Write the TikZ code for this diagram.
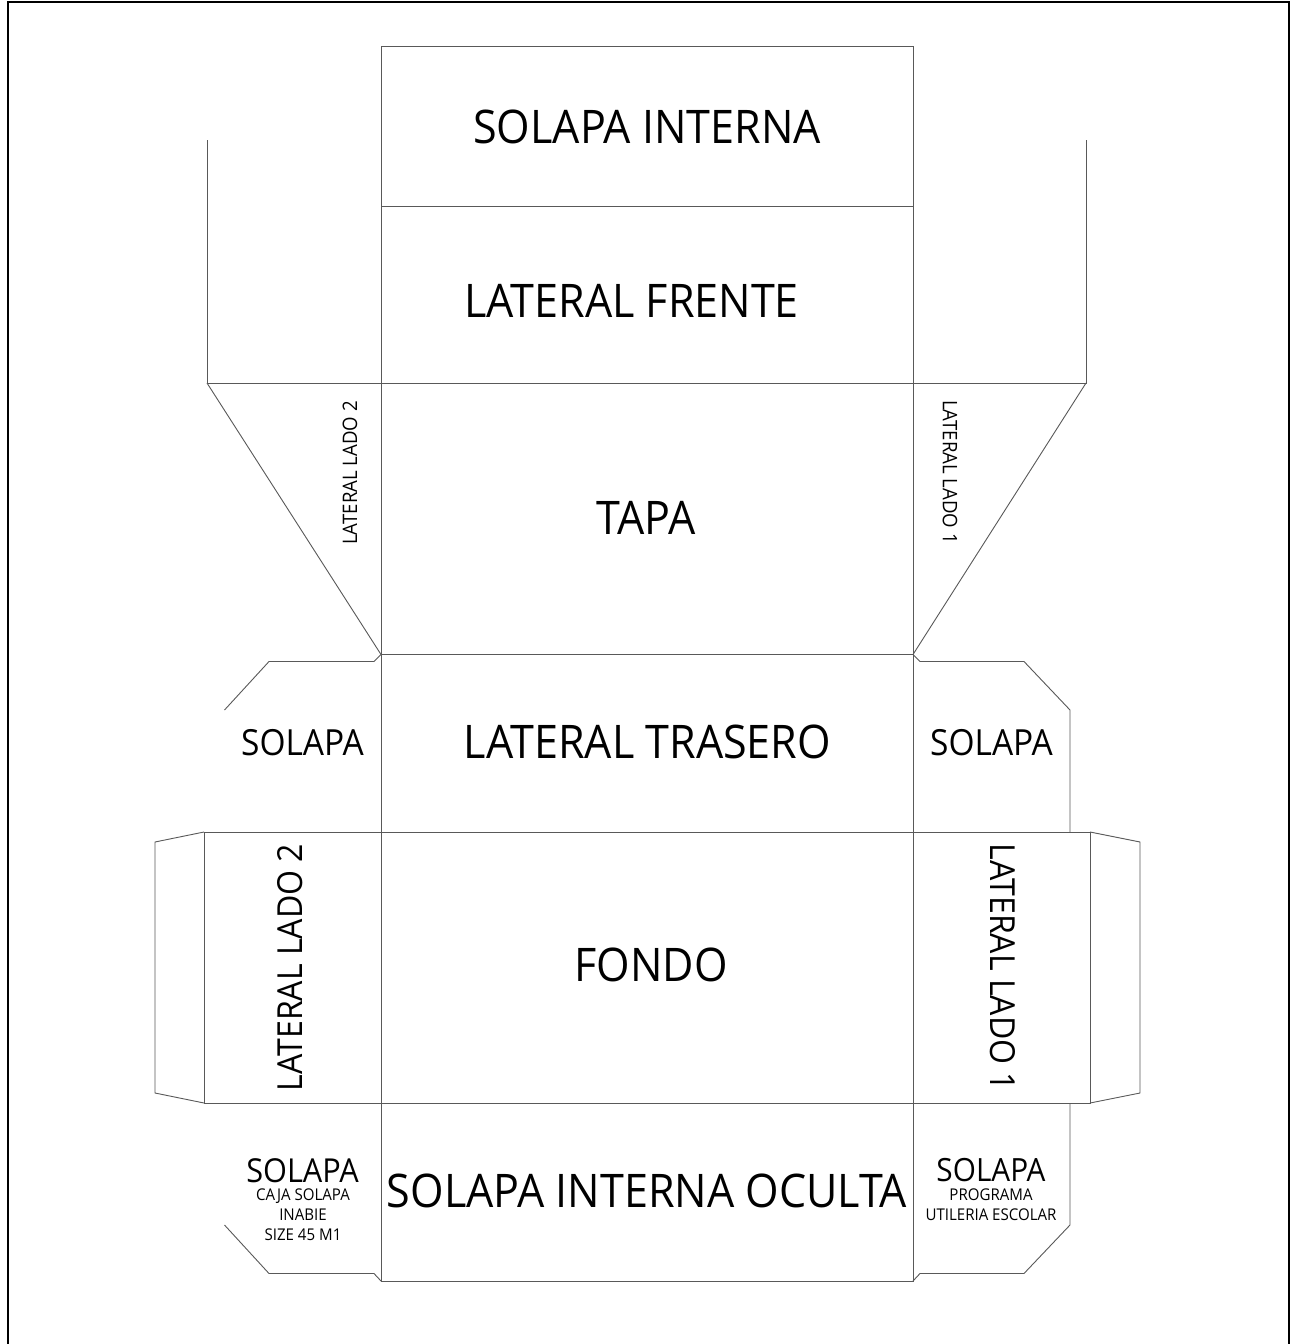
\documentclass[tikz,border=0pt]{standalone}
\usepackage{fontspec}
\setmainfont[FakeStretch=0.93]{Open Sans}
\definecolor{cutline}{gray}{0.35}
\tikzset{
  cut/.style={draw=cutline,line width=0.9pt,line join=miter},
  lab/.style={inner sep=0pt,text=black,align=center},
  big/.style={lab,font=\fontsize{46.3}{46.3}\selectfont},
  sol/.style={lab,font=\fontsize{36}{36}\selectfont},
  solb/.style={lab,font=\fontsize{33}{33}\selectfont},
  solc/.style={lab,font=\fontsize{32}{32}\selectfont},
  tiny/.style={lab,font=\fontsize{16.2}{20}\selectfont},
  sidebig/.style={lab,font=\fontsize{34.5}{34.5}\selectfont},
  sidesm/.style={lab,font=\fontsize{20}{20}\selectfont}
}
\begin{document}
\begin{tikzpicture}[x=1pt,y=-1pt]
\useasboundingbox (0,0) rectangle (1293,1344);
\fill[white] (0,0) rectangle (1293,1344);
\draw[black,line width=2pt] (8,1344) -- (8,2) -- (1289,2) -- (1289,1344);
% central panels
\draw[cut] (381,46) rectangle (913,1281);
\draw[cut] (381,206) -- (913,206);
\draw[cut] (381,383) -- (913,383);
\draw[cut] (381,654.5) -- (913,654.5);
\draw[cut] (381,832) -- (913,832);
\draw[cut] (381,1103) -- (913,1103);
% top flaps
\draw[cut] (207,140) -- (207,383) -- (381,383);
\draw[cut] (207,383) -- (381,654.5);
\draw[cut] (1086,140) -- (1086,383) -- (913,383);
\draw[cut] (1086,383) -- (913,654.5);
% solapas
\draw[cut] (224.5,710) -- (269,661.5) -- (374,661.5) -- (381,654.5);
\draw[cut] (913,654.5) -- (920,661.5) -- (1024,661.5) -- (1070,710) -- (1070,832);
\draw[cut] (224.5,1225) -- (269,1273.5) -- (374,1273.5) -- (381,1281);
\draw[cut] (1070,1103) -- (1070,1225) -- (1024,1273.5) -- (920,1273.5) -- (913,1281);
% side panels
\draw[cut] (381,832) -- (204,832) -- (204,1103) -- (381,1103);
\draw[cut] (204,832) -- (155,842) -- (155,1093) -- (204,1103);
\draw[cut] (913,832) -- (1090,832) -- (1090,1103) -- (913,1103);
\draw[cut] (1090,832) -- (1140,842) -- (1140,1093) -- (1090,1103);
% labels
\node[big] (si) at (647,127) {SOLAPA INTERNA};
\node[big] (lf) at (631.5,301) {LATERAL FRENTE};
\node[big] (tp) at (646,518) {TAPA};
\node[big] (lt) at (647.5,742) {LATERAL TRASERO};
\node[big] (fo) at (651,965) {FONDO};
\node[big] (so) at (647,1191) {SOLAPA INTERNA OCULTA};
\node[sol] (sl) at (302.5,743) {SOLAPA};
\node[sol] (sr) at (991.5,743) {SOLAPA};
\node[sidebig,rotate=90] (l2b) at (290.5,967.5) {LATERAL LADO 2};
\node[sidebig,rotate=-90] (l1b) at (1002.5,967.5) {LATERAL LADO 1};
\node[sidesm,rotate=90] (l2s) at (350,473) {LATERAL LADO 2};
\node[sidesm,rotate=-90] (l1s) at (950,472) {LATERAL LADO 1};
\node[solb] (sbl) at (302.5,1171) {SOLAPA};
\node[tiny] (cj) at (303,1215) {CAJA SOLAPA\\INABIE\\SIZE 45 M1};
\node[solc] (sbr) at (991,1170) {SOLAPA};
\node[tiny] (pg) at (991,1205) {PROGRAMA\\UTILERIA ESCOLAR};
\end{tikzpicture}
\end{document}
